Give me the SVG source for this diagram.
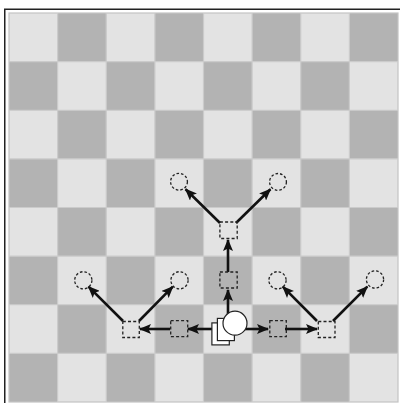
<svg xmlns="http://www.w3.org/2000/svg" width="400" height="403" viewBox="0 0 400 403">
<defs>
<pattern id="board" x="9" y="13" width="97.25" height="97.25" patternUnits="userSpaceOnUse">
<rect width="97.25" height="97.25" fill="#e3e3e3"/>
<rect x="48.625" width="48.625" height="48.625" fill="#b3b3b3"/>
<rect y="48.625" width="48.625" height="48.625" fill="#b3b3b3"/>
</pattern>
<marker id="ah" markerUnits="userSpaceOnUse" markerWidth="12" markerHeight="10" refX="11" refY="5" orient="auto" viewBox="0 0 12 10">
<path d="M0,0 L12,5 L0,10 L2.5,5 z" fill="#111"/>
</marker>
<style>
.sq{fill:none;stroke:#222;stroke-width:1.3;stroke-dasharray:3 2.2}
.ci{fill:none;stroke:#222;stroke-width:1.3;stroke-dasharray:2.6 2}
.pc{fill:#fff;stroke:#222;stroke-width:1.2}
.ar{stroke:#111;stroke-width:2.6;fill:none;marker-end:url(#ah)}
</style>
</defs>
<rect x="0" y="0" width="400" height="403" fill="#fff"/>
<rect x="4.75" y="9.25" width="400" height="400" fill="#fff" stroke="#222" stroke-width="1.5"/>
<rect x="9" y="13" width="389" height="389" fill="url(#board)" stroke="#c4c4c4" stroke-width="1.2"/>
<path d="M57.6,13V402M106.25,13V402M154.9,13V402M203.5,13V402M252.1,13V402M300.75,13V402M349.4,13V402M9,61.6H398M9,110.25H398M9,158.9H398M9,207.5H398M9,256.1H398M9,304.75H398M9,353.4H398" stroke="#cbcbcb" stroke-width="1.2" fill="none"/>
<g id="connectors">
<line class="ar" x1="212" y1="329" x2="188" y2="329"/>
<line class="ar" x1="170" y1="329" x2="140" y2="329"/>
<line class="ar" x1="123" y1="321" x2="88.5" y2="286.7"/>
<line class="ar" x1="139" y1="321" x2="172.8" y2="286.7"/>
<line class="ar" x1="242" y1="329" x2="268" y2="329"/>
<line class="ar" x1="285" y1="329" x2="317" y2="329"/>
<line class="ar" x1="317" y1="321" x2="282.8" y2="286.7"/>
<line class="ar" x1="333" y1="321" x2="367.3" y2="286.7"/>
<line class="ar" x1="228" y1="318" x2="228" y2="290"/>
<line class="ar" x1="228" y1="272" x2="228" y2="240"/>
<line class="ar" x1="220" y1="223" x2="185.6" y2="189.3"/>
<line class="ar" x1="236" y1="223" x2="270.4" y2="189.3"/>
</g>
<g id="sq-c3r6"><rect class="sq" x="170.7" y="320.6" width="17" height="16"/></g>
<g id="sq-c2r6"><rect class="sq" x="122.8" y="321.5" width="16.5" height="16"/></g>
<g id="sq-c5r6"><rect class="sq" x="269.8" y="320.6" width="16.5" height="16"/></g>
<g id="sq-c6r6"><rect class="sq" x="318.3" y="321.5" width="16.7" height="16"/></g>
<g id="sq-c4r5"><rect class="sq" x="219.9" y="272" width="17.3" height="16"/></g>
<g id="sq-c4r4"><rect class="sq" x="219.9" y="222" width="17.3" height="16.5"/></g>
<g id="ci-c1r5"><circle class="ci" cx="83.3" cy="280.3" r="8.6"/></g>
<g id="ci-c3r5"><circle class="ci" cx="179.5" cy="280.3" r="8.6"/></g>
<g id="ci-c5r5"><circle class="ci" cx="277.5" cy="280.3" r="8.6"/></g>
<g id="ci-c7r5"><circle class="ci" cx="375" cy="279.5" r="8.6"/></g>
<g id="ci-c3r3"><circle class="ci" cx="179" cy="181.7" r="8.4"/></g>
<g id="ci-c5r3"><circle class="ci" cx="278" cy="181.9" r="8.4"/></g>
<g id="piece">
<rect class="pc" x="211.9" y="322.9" width="17.4" height="22"/>
<rect class="pc" x="217.4" y="318.4" width="17" height="22.2"/>
<circle class="pc" cx="235" cy="323.2" r="12"/>
</g>
</svg>
